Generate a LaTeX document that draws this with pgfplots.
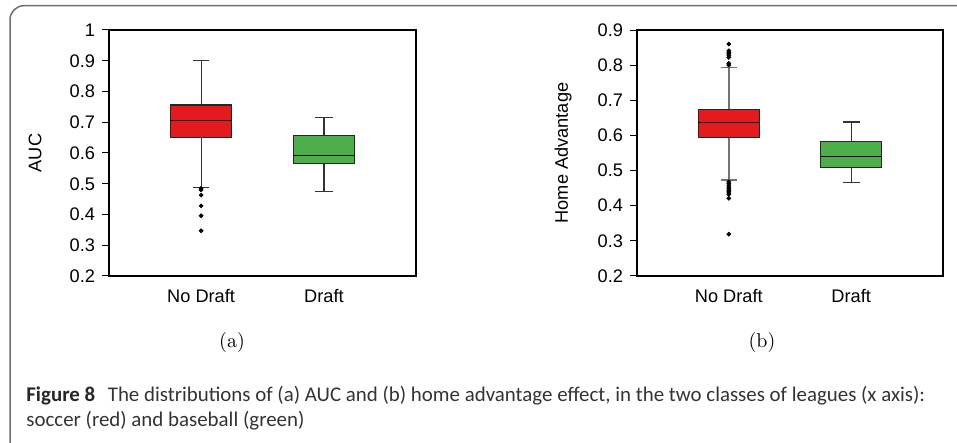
\documentclass[border=0pt]{standalone}
\usepackage{fontspec}
\usepackage{pgfplots}
\pgfplotsset{compat=1.18}
\usepgfplotslibrary{statistics}
\newfontfamily\arial{Liberation Sans}
\newfontfamily\capfont{Carlito}
\definecolor{boxred}{HTML}{E41A1C}
\definecolor{boxgreen}{HTML}{4DAF4A}
\definecolor{framegray}{HTML}{6E6E6E}
\pgfplotsset{
  common/.style={
    scale only axis,
    height=123pt,
    xmin=0.25, xmax=2.75,
    xtick={1,2}, xticklabels={No Draft, Draft},
    xtick style={draw=none},
    ytick pos=left,
    tick align=outside,
    major tick length=3.5pt,
    ytick style={line width=0.5pt, black},
    axis line style={line width=0.75pt, black},
    tick label style={font=\arial\fontsize{9.1}{11}\selectfont},
    label style={font=\arial\fontsize{9.1}{11}\selectfont},
    /pgf/number format/assume math mode=true,
    /pgf/number format/fixed,
    /pgf/number format/precision=1,
    xticklabel style={yshift=0.5pt},
    ylabel style={at={(axis description cs:-0.241,0.5)}, anchor=center},
    boxplot/draw direction=y,
  },
  redbox/.style 2 args={
    boxplot/every box/.style={draw=black!85, fill=boxred, line width=0.55pt},
    boxplot/every median/.style={draw=black, line width=0.55pt},
    boxplot/every whisker/.style={draw=#1, line width=#2},
    mark=*, mark size=0.95pt, mark options={draw=black, fill=black},
  },
  greenbox/.style={
    boxplot/every box/.style={draw=black!85, fill=boxgreen, line width=0.55pt},
    boxplot/every median/.style={draw=black, line width=0.55pt},
    boxplot/every whisker/.style={draw=#1, line width=0.6pt},
    mark=*, mark size=0.95pt, mark options={draw=black, fill=black},
  },
}
\begin{document}
\begin{tikzpicture}[x=0.5pt,y=0.5pt]
\useasboundingbox (0,0) rectangle (957,443);
\begin{scope}
\clip (0,0) rectangle (957,443);
\draw[framegray, line width=0.75pt, rounded corners=7pt] (10,-30) -- (10,437.3) -- (990,437.3);
\end{scope}

% (a) AUC
\begin{axis}[common, at={(54.5pt,83.5pt)}, anchor=south west, width=153.5pt,
  ymin=0.2, ymax=1, ytick={0.2,0.3,...,1.0}, ylabel={AUC}]
\addplot[redbox={black!80}{0.6pt}, boxplot prepared={draw position=1,
  lower whisker=0.489, lower quartile=0.649, median=0.705,
  upper quartile=0.756, upper whisker=0.900,
  box extend=0.5, whisker extend=0.135}]
  table[row sep=\\, y index=0] {0.485\\0.480\\0.463\\0.428\\0.396\\0.347\\};
\addplot[greenbox=black!80, boxplot prepared={draw position=2,
  lower whisker=0.476, lower quartile=0.567, median=0.592,
  upper quartile=0.657, upper whisker=0.715,
  box extend=0.5, whisker extend=0.14}]
  coordinates {};
\end{axis}

% (b) Home advantage
\begin{axis}[common, at={(318.5pt,83.5pt)}, anchor=south west, width=153pt,
  ymin=0.2, ymax=0.9, ytick={0.2,0.3,...,0.9}, ylabel={Home Advantage}]
\addplot[redbox={black!55}{0.8pt}, boxplot prepared={draw position=1,
  lower whisker=0.474, lower quartile=0.5945, median=0.638,
  upper quartile=0.675, upper whisker=0.793,
  box extend=0.5, whisker extend=0.135}]
  table[row sep=\\, y index=0] {0.860\\0.841\\0.836\\0.832\\0.827\\0.822\\0.805\\0.800\\0.468\\0.463\\0.458\\0.453\\0.448\\0.444\\0.440\\0.436\\0.432\\0.421\\0.319\\};
\addplot[greenbox=black!80, boxplot prepared={draw position=2,
  lower whisker=0.465, lower quartile=0.510, median=0.540,
  upper quartile=0.584, upper whisker=0.638,
  box extend=0.5, whisker extend=0.14}]
  coordinates {};
\end{axis}

\node[font=\fontsize{10}{12}\selectfont] at (232,100) {(a)};
\node[font=\fontsize{10}{12}\selectfont] at (762,100) {(b)};

\node[anchor=base west, inner sep=0pt, font=\capfont\fontsize{10.45}{12}\selectfont, text=black!80] at (26,41)
  {{\bfseries\color{black!85}Figure 8}\hspace{0.6em}The distributions of (a) AUC and (b) home advantage effect, in the two classes of leagues (x axis):};
\node[anchor=base west, inner sep=0pt, font=\capfont\fontsize{10.45}{12}\selectfont, text=black!80] at (26,16)
  {soccer (red) and baseball (green)};
\end{tikzpicture}
\end{document}
